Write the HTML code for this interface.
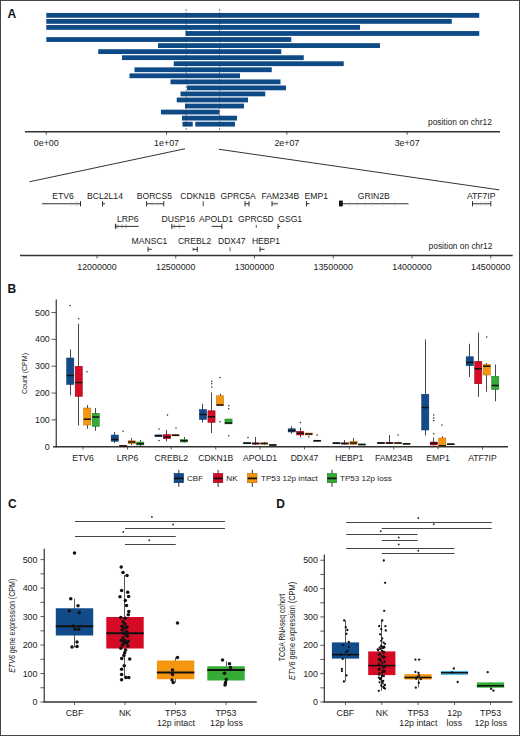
<!DOCTYPE html>
<html><head><meta charset="utf-8"><style>
html,body{margin:0;padding:0;background:#fff;}
body{width:520px;height:736px;overflow:hidden;}
svg{display:block;font-family:"Liberation Sans", sans-serif;}
</style></head><body>
<svg width="520" height="736" viewBox="0 0 520 736">
<rect x="0" y="0" width="520" height="736" fill="#fff"/>
<text x="7.50" y="18.00" font-size="12" text-anchor="start" fill="#111" font-weight="bold" >A</text>
<rect x="46.30" y="12.95" width="432.95" height="4.80" fill="#0e4a86" />
<rect x="46.30" y="19.00" width="405.45" height="4.80" fill="#0e4a86" />
<rect x="46.30" y="25.04" width="313.70" height="4.80" fill="#0e4a86" />
<rect x="185.50" y="31.08" width="293.75" height="4.80" fill="#0e4a86" />
<rect x="46.30" y="37.13" width="244.95" height="4.80" fill="#0e4a86" />
<rect x="158.00" y="43.18" width="222.00" height="4.80" fill="#0e4a86" />
<rect x="98.25" y="49.22" width="183.00" height="4.80" fill="#0e4a86" />
<rect x="122.00" y="55.27" width="181.75" height="4.80" fill="#0e4a86" />
<rect x="173.75" y="61.31" width="170.00" height="4.80" fill="#0e4a86" />
<rect x="134.50" y="67.36" width="137.25" height="4.80" fill="#0e4a86" />
<rect x="129.50" y="73.40" width="110.50" height="4.80" fill="#0e4a86" />
<rect x="170.50" y="79.45" width="110.00" height="4.80" fill="#0e4a86" />
<rect x="187.00" y="85.49" width="99.00" height="4.80" fill="#0e4a86" />
<rect x="180.50" y="91.53" width="84.75" height="4.80" fill="#0e4a86" />
<rect x="176.75" y="97.58" width="71.25" height="4.80" fill="#0e4a86" />
<rect x="185.00" y="103.62" width="59.00" height="4.80" fill="#0e4a86" />
<rect x="161.00" y="109.67" width="58.50" height="4.80" fill="#0e4a86" />
<rect x="182.00" y="115.72" width="55.00" height="4.80" fill="#0e4a86" />
<rect x="182.50" y="121.76" width="10.25" height="4.80" fill="#0e4a86" />
<rect x="195.25" y="121.76" width="39.75" height="4.80" fill="#0e4a86" />
<line x1="186.20" y1="9.00" x2="186.20" y2="131.00" stroke="#333" stroke-width="0.6" stroke-dasharray="2,1.5"/>
<line x1="219.60" y1="9.00" x2="219.60" y2="131.00" stroke="#333" stroke-width="0.6" stroke-dasharray="2,1.5"/>
<line x1="25.00" y1="131.70" x2="500.00" y2="131.70" stroke="#333" stroke-width="1.5" />
<line x1="46.25" y1="131.70" x2="46.25" y2="134.80" stroke="#333" stroke-width="0.8" />
<text x="46.25" y="145.80" font-size="8.9" text-anchor="middle" fill="#222" font-weight="normal" >0e+00</text>
<line x1="166.55" y1="131.70" x2="166.55" y2="134.80" stroke="#333" stroke-width="0.8" />
<text x="166.55" y="145.80" font-size="8.9" text-anchor="middle" fill="#222" font-weight="normal" >1e+07</text>
<line x1="286.85" y1="131.70" x2="286.85" y2="134.80" stroke="#333" stroke-width="0.8" />
<text x="286.85" y="145.80" font-size="8.9" text-anchor="middle" fill="#222" font-weight="normal" >2e+07</text>
<line x1="407.15" y1="131.70" x2="407.15" y2="134.80" stroke="#333" stroke-width="0.8" />
<text x="407.15" y="145.80" font-size="8.9" text-anchor="middle" fill="#222" font-weight="normal" >3e+07</text>
<text x="428.00" y="124.50" font-size="8.4" text-anchor="start" fill="#222" font-weight="normal" >position on chr12</text>
<line x1="29.50" y1="181.75" x2="185.00" y2="148.75" stroke="#333" stroke-width="1" />
<line x1="218.75" y1="149.25" x2="499.40" y2="189.90" stroke="#333" stroke-width="1" />
<text x="63.00" y="198.60" font-size="8.6" text-anchor="middle" fill="#222" font-weight="normal" >ETV6</text>
<line x1="42.00" y1="203.75" x2="80.50" y2="203.75" stroke="#1a1a1a" stroke-width="0.9" />
<line x1="80.50" y1="201.15" x2="80.50" y2="206.35" stroke="#1a1a1a" stroke-width="0.9" />
<line x1="71.20" y1="201.55" x2="71.20" y2="205.95" stroke="#aaa" stroke-width="0.5" />
<line x1="75.60" y1="201.55" x2="75.60" y2="205.95" stroke="#aaa" stroke-width="0.5" />
<line x1="77.50" y1="201.55" x2="77.50" y2="205.95" stroke="#aaa" stroke-width="0.5" />
<text x="105.00" y="198.60" font-size="8.6" text-anchor="middle" fill="#222" font-weight="normal" >BCL2L14</text>
<line x1="102.50" y1="203.75" x2="105.00" y2="203.75" stroke="#1a1a1a" stroke-width="0.9" />
<line x1="102.50" y1="201.15" x2="102.50" y2="206.35" stroke="#1a1a1a" stroke-width="0.9" />
<text x="154.40" y="198.60" font-size="8.6" text-anchor="middle" fill="#222" font-weight="normal" >BORCS5</text>
<line x1="146.50" y1="203.75" x2="163.75" y2="203.75" stroke="#1a1a1a" stroke-width="0.9" />
<line x1="146.50" y1="201.15" x2="146.50" y2="206.35" stroke="#1a1a1a" stroke-width="0.9" />
<line x1="163.75" y1="201.15" x2="163.75" y2="206.35" stroke="#1a1a1a" stroke-width="0.9" />
<line x1="152.00" y1="201.55" x2="152.00" y2="205.95" stroke="#aaa" stroke-width="0.5" />
<line x1="158.00" y1="201.55" x2="158.00" y2="205.95" stroke="#aaa" stroke-width="0.5" />
<text x="197.70" y="198.60" font-size="8.6" text-anchor="middle" fill="#222" font-weight="normal" >CDKN1B</text>
<line x1="203.20" y1="201.30" x2="203.20" y2="206.30" stroke="#1a1a1a" stroke-width="0.8" />
<text x="238.20" y="198.60" font-size="8.6" text-anchor="middle" fill="#222" font-weight="normal" >GPRC5A</text>
<line x1="245.00" y1="203.75" x2="249.00" y2="203.75" stroke="#1a1a1a" stroke-width="0.9" />
<line x1="245.00" y1="201.15" x2="245.00" y2="206.35" stroke="#1a1a1a" stroke-width="0.9" />
<line x1="249.00" y1="201.15" x2="249.00" y2="206.35" stroke="#1a1a1a" stroke-width="0.9" />
<text x="280.40" y="198.60" font-size="8.6" text-anchor="middle" fill="#222" font-weight="normal" >FAM234B</text>
<line x1="272.00" y1="203.75" x2="278.00" y2="203.75" stroke="#1a1a1a" stroke-width="0.9" />
<line x1="272.00" y1="201.15" x2="272.00" y2="206.35" stroke="#1a1a1a" stroke-width="0.9" />
<line x1="274.00" y1="201.55" x2="274.00" y2="205.95" stroke="#aaa" stroke-width="0.5" />
<line x1="276.00" y1="201.55" x2="276.00" y2="205.95" stroke="#aaa" stroke-width="0.5" />
<text x="316.30" y="198.60" font-size="8.6" text-anchor="middle" fill="#222" font-weight="normal" >EMP1</text>
<line x1="306.50" y1="203.75" x2="309.50" y2="203.75" stroke="#1a1a1a" stroke-width="0.9" />
<line x1="306.50" y1="201.15" x2="306.50" y2="206.35" stroke="#1a1a1a" stroke-width="0.9" />
<rect x="339.00" y="200.60" width="3.80" height="5.80" fill="#111" />
<line x1="342.00" y1="203.75" x2="408.50" y2="203.75" stroke="#1a1a1a" stroke-width="0.9" />
<line x1="350.00" y1="201.55" x2="350.00" y2="205.95" stroke="#aaa" stroke-width="0.5" />
<line x1="357.00" y1="201.55" x2="357.00" y2="205.95" stroke="#aaa" stroke-width="0.5" />
<line x1="365.00" y1="201.55" x2="365.00" y2="205.95" stroke="#aaa" stroke-width="0.5" />
<line x1="372.00" y1="201.55" x2="372.00" y2="205.95" stroke="#aaa" stroke-width="0.5" />
<line x1="383.00" y1="201.55" x2="383.00" y2="205.95" stroke="#aaa" stroke-width="0.5" />
<line x1="395.00" y1="201.55" x2="395.00" y2="205.95" stroke="#aaa" stroke-width="0.5" />
<text x="373.80" y="198.60" font-size="8.6" text-anchor="middle" fill="#222" font-weight="normal" >GRIN2B</text>
<text x="481.20" y="198.60" font-size="8.6" text-anchor="middle" fill="#222" font-weight="normal" >ATF7IP</text>
<line x1="472.50" y1="203.75" x2="490.80" y2="203.75" stroke="#1a1a1a" stroke-width="0.9" />
<line x1="472.50" y1="201.15" x2="472.50" y2="206.35" stroke="#1a1a1a" stroke-width="0.9" />
<line x1="490.80" y1="201.15" x2="490.80" y2="206.35" stroke="#1a1a1a" stroke-width="0.9" />
<line x1="477.00" y1="201.55" x2="477.00" y2="205.95" stroke="#aaa" stroke-width="0.5" />
<line x1="481.00" y1="201.55" x2="481.00" y2="205.95" stroke="#aaa" stroke-width="0.5" />
<line x1="485.00" y1="201.55" x2="485.00" y2="205.95" stroke="#aaa" stroke-width="0.5" />
<line x1="488.00" y1="201.55" x2="488.00" y2="205.95" stroke="#aaa" stroke-width="0.5" />
<text x="127.80" y="221.60" font-size="8.6" text-anchor="middle" fill="#222" font-weight="normal" >LRP6</text>
<line x1="115.40" y1="226.40" x2="138.60" y2="226.40" stroke="#1a1a1a" stroke-width="0.9" />
<line x1="115.40" y1="223.80" x2="115.40" y2="229.00" stroke="#1a1a1a" stroke-width="0.9" />
<line x1="116.30" y1="224.20" x2="116.30" y2="228.60" stroke="#555" stroke-width="0.5" />
<line x1="117.90" y1="224.20" x2="117.90" y2="228.60" stroke="#555" stroke-width="0.5" />
<line x1="122.00" y1="224.20" x2="122.00" y2="228.60" stroke="#555" stroke-width="0.5" />
<line x1="126.00" y1="224.20" x2="126.00" y2="228.60" stroke="#555" stroke-width="0.5" />
<text x="178.30" y="221.60" font-size="8.6" text-anchor="middle" fill="#222" font-weight="normal" >DUSP16</text>
<line x1="171.80" y1="226.40" x2="185.30" y2="226.40" stroke="#1a1a1a" stroke-width="0.9" />
<line x1="171.80" y1="223.80" x2="171.80" y2="229.00" stroke="#1a1a1a" stroke-width="0.9" />
<line x1="174.40" y1="224.20" x2="174.40" y2="228.60" stroke="#555" stroke-width="0.5" />
<line x1="179.20" y1="224.20" x2="179.20" y2="228.60" stroke="#555" stroke-width="0.5" />
<text x="216.00" y="221.60" font-size="8.6" text-anchor="middle" fill="#222" font-weight="normal" >APOLD1</text>
<line x1="211.60" y1="226.40" x2="221.90" y2="226.40" stroke="#1a1a1a" stroke-width="0.9" />
<line x1="221.90" y1="223.80" x2="221.90" y2="229.00" stroke="#1a1a1a" stroke-width="0.9" />
<text x="255.90" y="221.60" font-size="8.6" text-anchor="middle" fill="#222" font-weight="normal" >GPRC5D</text>
<line x1="256.30" y1="224.90" x2="256.30" y2="227.90" stroke="#1a1a1a" stroke-width="0.7" />
<text x="290.20" y="221.60" font-size="8.6" text-anchor="middle" fill="#222" font-weight="normal" >GSG1</text>
<line x1="278.00" y1="226.40" x2="280.20" y2="226.40" stroke="#1a1a1a" stroke-width="0.9" />
<line x1="278.00" y1="223.80" x2="278.00" y2="229.00" stroke="#1a1a1a" stroke-width="0.9" />
<text x="149.50" y="244.40" font-size="8.6" text-anchor="middle" fill="#222" font-weight="normal" >MANSC1</text>
<line x1="148.00" y1="249.30" x2="151.80" y2="249.30" stroke="#1a1a1a" stroke-width="0.9" />
<line x1="148.00" y1="246.70" x2="148.00" y2="251.90" stroke="#1a1a1a" stroke-width="0.9" />
<text x="194.60" y="244.40" font-size="8.6" text-anchor="middle" fill="#222" font-weight="normal" >CREBL2</text>
<line x1="193.20" y1="249.30" x2="197.30" y2="249.30" stroke="#1a1a1a" stroke-width="0.9" />
<line x1="197.30" y1="246.70" x2="197.30" y2="251.90" stroke="#1a1a1a" stroke-width="0.9" />
<line x1="193.20" y1="247.80" x2="193.20" y2="250.80" stroke="#1a1a1a" stroke-width="0.8" />
<text x="231.80" y="244.40" font-size="8.6" text-anchor="middle" fill="#222" font-weight="normal" >DDX47</text>
<line x1="230.00" y1="247.30" x2="230.00" y2="251.30" stroke="#1a1a1a" stroke-width="0.7" />
<text x="266.00" y="244.40" font-size="8.6" text-anchor="middle" fill="#222" font-weight="normal" >HEBP1</text>
<line x1="260.00" y1="249.30" x2="264.50" y2="249.30" stroke="#1a1a1a" stroke-width="0.9" />
<line x1="260.00" y1="246.70" x2="260.00" y2="251.90" stroke="#1a1a1a" stroke-width="0.9" />
<text x="428.60" y="248.60" font-size="8.4" text-anchor="start" fill="#222" font-weight="normal" >position on chr12</text>
<line x1="20.00" y1="255.50" x2="512.70" y2="255.50" stroke="#333" stroke-width="1.5" />
<line x1="97.00" y1="255.50" x2="97.00" y2="258.50" stroke="#333" stroke-width="0.8" />
<text x="97.00" y="270.00" font-size="8.9" text-anchor="middle" fill="#222" font-weight="normal" >12000000</text>
<line x1="175.75" y1="255.50" x2="175.75" y2="258.50" stroke="#333" stroke-width="0.8" />
<text x="175.75" y="270.00" font-size="8.9" text-anchor="middle" fill="#222" font-weight="normal" >12500000</text>
<line x1="254.50" y1="255.50" x2="254.50" y2="258.50" stroke="#333" stroke-width="0.8" />
<text x="254.50" y="270.00" font-size="8.9" text-anchor="middle" fill="#222" font-weight="normal" >13000000</text>
<line x1="333.25" y1="255.50" x2="333.25" y2="258.50" stroke="#333" stroke-width="0.8" />
<text x="333.25" y="270.00" font-size="8.9" text-anchor="middle" fill="#222" font-weight="normal" >13500000</text>
<line x1="412.00" y1="255.50" x2="412.00" y2="258.50" stroke="#333" stroke-width="0.8" />
<text x="412.00" y="270.00" font-size="8.9" text-anchor="middle" fill="#222" font-weight="normal" >14000000</text>
<line x1="490.75" y1="255.50" x2="490.75" y2="258.50" stroke="#333" stroke-width="0.8" />
<text x="490.75" y="270.00" font-size="8.9" text-anchor="middle" fill="#222" font-weight="normal" >14500000</text>
<text x="7.50" y="292.50" font-size="12" text-anchor="start" fill="#111" font-weight="bold" >B</text>
<line x1="56.25" y1="299.50" x2="56.25" y2="447.50" stroke="#333" stroke-width="1.2" />
<line x1="53.10" y1="446.75" x2="508.00" y2="446.75" stroke="#333" stroke-width="1.5" />
<text x="49.80" y="449.85" font-size="8.9" text-anchor="end" fill="#222" font-weight="normal" >0</text>
<line x1="51.50" y1="419.90" x2="56.25" y2="419.90" stroke="#333" stroke-width="0.8" />
<text x="49.80" y="423.00" font-size="8.9" text-anchor="end" fill="#222" font-weight="normal" >100</text>
<line x1="51.50" y1="393.05" x2="56.25" y2="393.05" stroke="#333" stroke-width="0.8" />
<text x="49.80" y="396.15" font-size="8.9" text-anchor="end" fill="#222" font-weight="normal" >200</text>
<line x1="51.50" y1="366.20" x2="56.25" y2="366.20" stroke="#333" stroke-width="0.8" />
<text x="49.80" y="369.30" font-size="8.9" text-anchor="end" fill="#222" font-weight="normal" >300</text>
<line x1="51.50" y1="339.35" x2="56.25" y2="339.35" stroke="#333" stroke-width="0.8" />
<text x="49.80" y="342.45" font-size="8.9" text-anchor="end" fill="#222" font-weight="normal" >400</text>
<line x1="51.50" y1="312.50" x2="56.25" y2="312.50" stroke="#333" stroke-width="0.8" />
<text x="49.80" y="315.60" font-size="8.9" text-anchor="end" fill="#222" font-weight="normal" >500</text>
<text transform="translate(27,373.5) rotate(-90) scale(0.88,1)" font-size="8" text-anchor="middle" fill="#222">Count (CPM)</text>
<line x1="83.00" y1="446.75" x2="83.00" y2="449.50" stroke="#333" stroke-width="0.8" />
<text x="83.00" y="461.30" font-size="8.6" text-anchor="middle" fill="#222" font-weight="normal" >ETV6</text>
<line x1="127.50" y1="446.75" x2="127.50" y2="449.50" stroke="#333" stroke-width="0.8" />
<text x="127.50" y="461.30" font-size="8.6" text-anchor="middle" fill="#222" font-weight="normal" >LRP6</text>
<line x1="171.25" y1="446.75" x2="171.25" y2="449.50" stroke="#333" stroke-width="0.8" />
<text x="171.25" y="461.30" font-size="8.6" text-anchor="middle" fill="#222" font-weight="normal" >CREBL2</text>
<line x1="215.75" y1="446.75" x2="215.75" y2="449.50" stroke="#333" stroke-width="0.8" />
<text x="215.75" y="461.30" font-size="8.6" text-anchor="middle" fill="#222" font-weight="normal" >CDKN1B</text>
<line x1="260.00" y1="446.75" x2="260.00" y2="449.50" stroke="#333" stroke-width="0.8" />
<text x="260.00" y="461.30" font-size="8.6" text-anchor="middle" fill="#222" font-weight="normal" >APOLD1</text>
<line x1="304.50" y1="446.75" x2="304.50" y2="449.50" stroke="#333" stroke-width="0.8" />
<text x="304.50" y="461.30" font-size="8.6" text-anchor="middle" fill="#222" font-weight="normal" >DDX47</text>
<line x1="349.25" y1="446.75" x2="349.25" y2="449.50" stroke="#333" stroke-width="0.8" />
<text x="349.25" y="461.30" font-size="8.6" text-anchor="middle" fill="#222" font-weight="normal" >HEBP1</text>
<line x1="393.75" y1="446.75" x2="393.75" y2="449.50" stroke="#333" stroke-width="0.8" />
<text x="393.75" y="461.30" font-size="8.6" text-anchor="middle" fill="#222" font-weight="normal" >FAM234B</text>
<line x1="438.00" y1="446.75" x2="438.00" y2="449.50" stroke="#333" stroke-width="0.8" />
<text x="438.00" y="461.30" font-size="8.6" text-anchor="middle" fill="#222" font-weight="normal" >EMP1</text>
<line x1="482.50" y1="446.75" x2="482.50" y2="449.50" stroke="#333" stroke-width="0.8" />
<text x="482.50" y="461.30" font-size="8.6" text-anchor="middle" fill="#222" font-weight="normal" >ATF7IP</text>
<line x1="70.50" y1="349.50" x2="70.50" y2="395.50" stroke="#333" stroke-width="0.9" />
<rect x="66.65" y="358.00" width="7.20" height="26.50" fill="#124b8a" stroke="#0a3566" stroke-width="0.5"/>
<line x1="66.65" y1="375.50" x2="73.85" y2="375.50" stroke="#111" stroke-width="1.5" />
<circle cx="70.00" cy="305.50" r="0.75" fill="#222"/>
<line x1="78.50" y1="323.75" x2="78.50" y2="425.50" stroke="#333" stroke-width="0.9" />
<rect x="75.15" y="366.25" width="7.20" height="30.25" fill="#d50a25" stroke="#8e0a20" stroke-width="0.5"/>
<line x1="75.15" y1="382.50" x2="82.35" y2="382.50" stroke="#111" stroke-width="1.5" />
<circle cx="78.75" cy="318.75" r="0.75" fill="#222"/>
<line x1="87.50" y1="405.00" x2="87.50" y2="428.75" stroke="#333" stroke-width="0.9" />
<rect x="83.65" y="408.00" width="7.20" height="17.00" fill="#f5960f" stroke="#b86a10" stroke-width="0.5"/>
<line x1="83.65" y1="419.25" x2="90.85" y2="419.25" stroke="#111" stroke-width="1.5" />
<circle cx="87.00" cy="371.75" r="0.75" fill="#222"/>
<line x1="95.50" y1="408.00" x2="95.50" y2="430.75" stroke="#333" stroke-width="0.9" />
<rect x="92.15" y="413.25" width="7.20" height="13.25" fill="#36ab36" stroke="#25762a" stroke-width="0.5"/>
<line x1="92.15" y1="417.00" x2="99.35" y2="417.00" stroke="#111" stroke-width="1.5" />
<line x1="114.50" y1="432.00" x2="114.50" y2="443.00" stroke="#333" stroke-width="0.9" />
<rect x="111.15" y="435.00" width="7.20" height="6.25" fill="#124b8a" stroke="#0a3566" stroke-width="0.5"/>
<line x1="111.15" y1="439.50" x2="118.35" y2="439.50" stroke="#111" stroke-width="1.5" />
<line x1="123.50" y1="445.00" x2="123.50" y2="447.00" stroke="#333" stroke-width="0.9" />
<rect x="119.65" y="445.50" width="7.20" height="1.00" fill="#d50a25" stroke="#8e0a20" stroke-width="0.5"/>
<line x1="119.65" y1="446.00" x2="126.85" y2="446.00" stroke="#111" stroke-width="1.5" />
<circle cx="123.00" cy="431.25" r="0.75" fill="#222"/>
<line x1="131.50" y1="438.00" x2="131.50" y2="445.00" stroke="#333" stroke-width="0.9" />
<rect x="128.15" y="440.75" width="7.20" height="3.00" fill="#f5960f" stroke="#b86a10" stroke-width="0.5"/>
<line x1="128.15" y1="442.00" x2="135.35" y2="442.00" stroke="#111" stroke-width="1.5" />
<line x1="140.50" y1="440.00" x2="140.50" y2="446.00" stroke="#333" stroke-width="0.9" />
<rect x="136.65" y="442.00" width="7.20" height="3.00" fill="#36ab36" stroke="#25762a" stroke-width="0.5"/>
<line x1="136.65" y1="443.75" x2="143.85" y2="443.75" stroke="#111" stroke-width="1.5" />
<line x1="158.50" y1="434.90" x2="158.50" y2="436.60" stroke="#333" stroke-width="0.9" />
<rect x="154.90" y="434.90" width="7.20" height="1.70" fill="#124b8a" stroke="#0a3566" stroke-width="0.5"/>
<line x1="154.90" y1="435.75" x2="162.10" y2="435.75" stroke="#111" stroke-width="1.5" />
<circle cx="159.00" cy="429.00" r="0.75" fill="#222"/>
<circle cx="159.00" cy="440.50" r="0.75" fill="#222"/>
<line x1="166.50" y1="430.00" x2="166.50" y2="441.25" stroke="#333" stroke-width="0.9" />
<rect x="163.40" y="434.50" width="7.20" height="4.25" fill="#d50a25" stroke="#8e0a20" stroke-width="0.5"/>
<line x1="163.40" y1="437.00" x2="170.60" y2="437.00" stroke="#111" stroke-width="1.5" />
<circle cx="167.50" cy="415.00" r="0.75" fill="#222"/>
<line x1="175.50" y1="434.60" x2="175.50" y2="435.90" stroke="#333" stroke-width="0.9" />
<rect x="171.90" y="434.60" width="7.20" height="1.30" fill="#f5960f" stroke="#b86a10" stroke-width="0.5"/>
<line x1="171.90" y1="435.25" x2="179.10" y2="435.25" stroke="#111" stroke-width="1.5" />
<circle cx="176.00" cy="428.00" r="0.75" fill="#222"/>
<line x1="184.50" y1="437.00" x2="184.50" y2="442.50" stroke="#333" stroke-width="0.9" />
<rect x="180.40" y="439.50" width="7.20" height="2.50" fill="#36ab36" stroke="#25762a" stroke-width="0.5"/>
<line x1="180.40" y1="440.75" x2="187.60" y2="440.75" stroke="#111" stroke-width="1.5" />
<line x1="202.50" y1="403.75" x2="202.50" y2="422.50" stroke="#333" stroke-width="0.9" />
<rect x="199.40" y="409.50" width="7.20" height="10.00" fill="#124b8a" stroke="#0a3566" stroke-width="0.5"/>
<line x1="199.40" y1="414.50" x2="206.60" y2="414.50" stroke="#111" stroke-width="1.5" />
<line x1="211.50" y1="392.50" x2="211.50" y2="433.00" stroke="#333" stroke-width="0.9" />
<rect x="207.90" y="410.75" width="7.20" height="11.75" fill="#d50a25" stroke="#8e0a20" stroke-width="0.5"/>
<line x1="207.90" y1="416.75" x2="215.10" y2="416.75" stroke="#111" stroke-width="1.5" />
<circle cx="211.75" cy="381.25" r="0.75" fill="#222"/>
<circle cx="211.75" cy="383.75" r="0.75" fill="#222"/>
<circle cx="211.75" cy="387.00" r="0.75" fill="#222"/>
<line x1="220.50" y1="393.75" x2="220.50" y2="405.60" stroke="#333" stroke-width="0.9" />
<rect x="216.40" y="395.75" width="7.20" height="9.85" fill="#f5960f" stroke="#b86a10" stroke-width="0.5"/>
<line x1="216.40" y1="405.00" x2="223.60" y2="405.00" stroke="#111" stroke-width="1.5" />
<circle cx="220.00" cy="377.50" r="0.75" fill="#222"/>
<circle cx="220.00" cy="421.75" r="0.75" fill="#222"/>
<line x1="228.50" y1="419.00" x2="228.50" y2="424.00" stroke="#333" stroke-width="0.9" />
<rect x="224.90" y="419.00" width="7.20" height="4.90" fill="#36ab36" stroke="#25762a" stroke-width="0.5"/>
<line x1="224.90" y1="423.00" x2="232.10" y2="423.00" stroke="#111" stroke-width="1.5" />
<circle cx="228.75" cy="405.75" r="0.75" fill="#222"/>
<circle cx="228.75" cy="408.75" r="0.75" fill="#222"/>
<circle cx="228.75" cy="435.75" r="0.75" fill="#222"/>
<line x1="247.50" y1="442.70" x2="247.50" y2="443.80" stroke="#333" stroke-width="0.9" />
<rect x="243.65" y="442.70" width="7.20" height="1.10" fill="#124b8a" stroke="#0a3566" stroke-width="0.5"/>
<line x1="243.65" y1="443.25" x2="250.85" y2="443.25" stroke="#111" stroke-width="1.5" />
<circle cx="248.00" cy="437.50" r="0.75" fill="#222"/>
<line x1="255.50" y1="437.00" x2="255.50" y2="445.00" stroke="#333" stroke-width="0.9" />
<rect x="252.15" y="442.90" width="7.20" height="1.20" fill="#d50a25" stroke="#8e0a20" stroke-width="0.5"/>
<line x1="252.15" y1="443.50" x2="259.35" y2="443.50" stroke="#111" stroke-width="1.5" />
<line x1="264.50" y1="442.00" x2="264.50" y2="444.50" stroke="#333" stroke-width="0.9" />
<rect x="260.65" y="442.90" width="7.20" height="1.20" fill="#f5960f" stroke="#b86a10" stroke-width="0.5"/>
<line x1="260.65" y1="443.50" x2="267.85" y2="443.50" stroke="#111" stroke-width="1.5" />
<line x1="272.50" y1="444.50" x2="272.50" y2="445.50" stroke="#333" stroke-width="0.9" />
<rect x="269.15" y="444.50" width="7.20" height="1.00" fill="#36ab36" stroke="#25762a" stroke-width="0.5"/>
<line x1="269.15" y1="445.00" x2="276.35" y2="445.00" stroke="#111" stroke-width="1.5" />
<line x1="291.50" y1="426.25" x2="291.50" y2="433.75" stroke="#333" stroke-width="0.9" />
<rect x="288.15" y="428.75" width="7.20" height="3.25" fill="#124b8a" stroke="#0a3566" stroke-width="0.5"/>
<line x1="288.15" y1="430.50" x2="295.35" y2="430.50" stroke="#111" stroke-width="1.5" />
<line x1="300.50" y1="427.50" x2="300.50" y2="437.50" stroke="#333" stroke-width="0.9" />
<rect x="296.65" y="431.25" width="7.20" height="3.75" fill="#d50a25" stroke="#8e0a20" stroke-width="0.5"/>
<line x1="296.65" y1="433.25" x2="303.85" y2="433.25" stroke="#111" stroke-width="1.5" />
<circle cx="300.50" cy="422.50" r="0.75" fill="#222"/>
<line x1="308.50" y1="433.00" x2="308.50" y2="435.00" stroke="#333" stroke-width="0.9" />
<rect x="305.15" y="433.00" width="7.20" height="2.00" fill="#f5960f" stroke="#b86a10" stroke-width="0.5"/>
<line x1="305.15" y1="434.00" x2="312.35" y2="434.00" stroke="#111" stroke-width="1.5" />
<circle cx="308.75" cy="437.00" r="0.75" fill="#222"/>
<line x1="317.50" y1="440.20" x2="317.50" y2="441.30" stroke="#333" stroke-width="0.9" />
<rect x="313.65" y="440.20" width="7.20" height="1.10" fill="#36ab36" stroke="#25762a" stroke-width="0.5"/>
<line x1="313.65" y1="440.75" x2="320.85" y2="440.75" stroke="#111" stroke-width="1.5" />
<circle cx="317.00" cy="435.00" r="0.75" fill="#222"/>
<line x1="336.50" y1="442.70" x2="336.50" y2="443.80" stroke="#333" stroke-width="0.9" />
<rect x="332.90" y="442.70" width="7.20" height="1.10" fill="#124b8a" stroke="#0a3566" stroke-width="0.5"/>
<line x1="332.90" y1="443.25" x2="340.10" y2="443.25" stroke="#111" stroke-width="1.5" />
<line x1="344.50" y1="440.00" x2="344.50" y2="444.50" stroke="#333" stroke-width="0.9" />
<rect x="341.40" y="442.90" width="7.20" height="1.20" fill="#d50a25" stroke="#8e0a20" stroke-width="0.5"/>
<line x1="341.40" y1="443.50" x2="348.60" y2="443.50" stroke="#111" stroke-width="1.5" />
<line x1="353.50" y1="438.00" x2="353.50" y2="445.00" stroke="#333" stroke-width="0.9" />
<rect x="349.90" y="441.25" width="7.20" height="3.25" fill="#f5960f" stroke="#b86a10" stroke-width="0.5"/>
<line x1="349.90" y1="443.00" x2="357.10" y2="443.00" stroke="#111" stroke-width="1.5" />
<line x1="362.50" y1="444.00" x2="362.50" y2="445.00" stroke="#333" stroke-width="0.9" />
<rect x="358.40" y="444.00" width="7.20" height="1.00" fill="#36ab36" stroke="#25762a" stroke-width="0.5"/>
<line x1="358.40" y1="444.50" x2="365.60" y2="444.50" stroke="#111" stroke-width="1.5" />
<line x1="380.50" y1="442.50" x2="380.50" y2="443.50" stroke="#333" stroke-width="0.9" />
<rect x="377.40" y="442.50" width="7.20" height="1.00" fill="#124b8a" stroke="#0a3566" stroke-width="0.5"/>
<line x1="377.40" y1="443.00" x2="384.60" y2="443.00" stroke="#111" stroke-width="1.5" />
<line x1="389.50" y1="435.00" x2="389.50" y2="444.00" stroke="#333" stroke-width="0.9" />
<rect x="385.90" y="442.50" width="7.20" height="1.00" fill="#d50a25" stroke="#8e0a20" stroke-width="0.5"/>
<line x1="385.90" y1="443.00" x2="393.10" y2="443.00" stroke="#111" stroke-width="1.5" />
<line x1="398.50" y1="442.50" x2="398.50" y2="443.50" stroke="#333" stroke-width="0.9" />
<rect x="394.40" y="442.50" width="7.20" height="1.00" fill="#f5960f" stroke="#b86a10" stroke-width="0.5"/>
<line x1="394.40" y1="443.00" x2="401.60" y2="443.00" stroke="#111" stroke-width="1.5" />
<circle cx="398.00" cy="435.00" r="0.75" fill="#222"/>
<line x1="406.50" y1="443.25" x2="406.50" y2="444.25" stroke="#333" stroke-width="0.9" />
<rect x="402.90" y="443.25" width="7.20" height="1.00" fill="#36ab36" stroke="#25762a" stroke-width="0.5"/>
<line x1="402.90" y1="443.75" x2="410.10" y2="443.75" stroke="#111" stroke-width="1.5" />
<line x1="425.50" y1="339.50" x2="425.50" y2="435.50" stroke="#333" stroke-width="0.9" />
<rect x="421.65" y="394.25" width="7.20" height="35.75" fill="#124b8a" stroke="#0a3566" stroke-width="0.5"/>
<line x1="421.65" y1="407.50" x2="428.85" y2="407.50" stroke="#111" stroke-width="1.5" />
<line x1="433.50" y1="437.50" x2="433.50" y2="445.50" stroke="#333" stroke-width="0.9" />
<rect x="430.15" y="442.00" width="7.20" height="3.00" fill="#d50a25" stroke="#8e0a20" stroke-width="0.5"/>
<line x1="430.15" y1="443.25" x2="437.35" y2="443.25" stroke="#111" stroke-width="1.5" />
<circle cx="433.75" cy="415.00" r="0.75" fill="#222"/>
<circle cx="433.75" cy="418.00" r="0.75" fill="#222"/>
<circle cx="433.75" cy="420.50" r="0.75" fill="#222"/>
<circle cx="433.75" cy="433.75" r="0.75" fill="#222"/>
<line x1="442.50" y1="436.25" x2="442.50" y2="446.50" stroke="#333" stroke-width="0.9" />
<rect x="438.65" y="438.00" width="7.20" height="8.25" fill="#f5960f" stroke="#b86a10" stroke-width="0.5"/>
<line x1="438.65" y1="445.75" x2="445.85" y2="445.75" stroke="#111" stroke-width="1.5" />
<circle cx="442.00" cy="425.00" r="0.75" fill="#222"/>
<line x1="450.50" y1="443.50" x2="450.50" y2="445.00" stroke="#333" stroke-width="0.9" />
<rect x="447.15" y="443.75" width="7.20" height="1.00" fill="#36ab36" stroke="#25762a" stroke-width="0.5"/>
<line x1="447.15" y1="444.25" x2="454.35" y2="444.25" stroke="#111" stroke-width="1.5" />
<line x1="469.50" y1="343.75" x2="469.50" y2="377.00" stroke="#333" stroke-width="0.9" />
<rect x="466.15" y="356.75" width="7.20" height="9.00" fill="#124b8a" stroke="#0a3566" stroke-width="0.5"/>
<line x1="466.15" y1="362.50" x2="473.35" y2="362.50" stroke="#111" stroke-width="1.5" />
<line x1="478.50" y1="332.50" x2="478.50" y2="396.75" stroke="#333" stroke-width="0.9" />
<rect x="474.65" y="361.25" width="7.20" height="22.50" fill="#d50a25" stroke="#8e0a20" stroke-width="0.5"/>
<line x1="474.65" y1="368.75" x2="481.85" y2="368.75" stroke="#111" stroke-width="1.5" />
<line x1="486.50" y1="363.00" x2="486.50" y2="391.75" stroke="#333" stroke-width="0.9" />
<rect x="483.15" y="364.25" width="7.20" height="10.75" fill="#f5960f" stroke="#b86a10" stroke-width="0.5"/>
<line x1="483.15" y1="366.25" x2="490.35" y2="366.25" stroke="#111" stroke-width="1.5" />
<circle cx="486.75" cy="337.00" r="0.75" fill="#222"/>
<line x1="495.50" y1="364.50" x2="495.50" y2="401.25" stroke="#333" stroke-width="0.9" />
<rect x="491.65" y="376.30" width="7.20" height="13.20" fill="#36ab36" stroke="#25762a" stroke-width="0.5"/>
<line x1="491.65" y1="385.50" x2="498.85" y2="385.50" stroke="#111" stroke-width="1.5" />
<line x1="178.80" y1="469.80" x2="178.80" y2="486.90" stroke="#333" stroke-width="1" />
<rect x="174.10" y="473.50" width="9.40" height="9.20" fill="#124b8a" stroke="#0a3566" stroke-width="0.6"/>
<line x1="174.10" y1="478.40" x2="183.50" y2="478.40" stroke="#111" stroke-width="1.8" />
<text x="187.00" y="481.30" font-size="8.1" text-anchor="start" fill="#222" font-weight="normal" >CBF</text>
<line x1="218.10" y1="469.80" x2="218.10" y2="486.90" stroke="#333" stroke-width="1" />
<rect x="213.40" y="473.50" width="9.40" height="9.20" fill="#d50a25" stroke="#8e0a20" stroke-width="0.6"/>
<line x1="213.40" y1="478.40" x2="222.80" y2="478.40" stroke="#111" stroke-width="1.8" />
<text x="226.30" y="481.30" font-size="8.1" text-anchor="start" fill="#222" font-weight="normal" >NK</text>
<line x1="252.30" y1="469.80" x2="252.30" y2="486.90" stroke="#333" stroke-width="1" />
<rect x="247.60" y="473.50" width="9.40" height="9.20" fill="#f5960f" stroke="#b86a10" stroke-width="0.6"/>
<line x1="247.60" y1="478.40" x2="257.00" y2="478.40" stroke="#111" stroke-width="1.8" />
<text x="261.00" y="481.30" font-size="8.1" text-anchor="start" fill="#222" font-weight="normal" >TP53 12p intact</text>
<line x1="332.00" y1="469.80" x2="332.00" y2="486.90" stroke="#333" stroke-width="1" />
<rect x="327.30" y="473.50" width="9.40" height="9.20" fill="#36ab36" stroke="#25762a" stroke-width="0.6"/>
<line x1="327.30" y1="478.40" x2="336.70" y2="478.40" stroke="#111" stroke-width="1.8" />
<text x="340.00" y="481.30" font-size="8.1" text-anchor="start" fill="#222" font-weight="normal" >TP53 12p loss</text>
<text x="8.00" y="508.00" font-size="12" text-anchor="start" fill="#111" font-weight="bold" >C</text>
<line x1="44.25" y1="548.75" x2="44.25" y2="702.60" stroke="#333" stroke-width="1.2" />
<line x1="43.60" y1="702.00" x2="256.75" y2="702.00" stroke="#333" stroke-width="1.5" />
<line x1="40.50" y1="702.00" x2="44.25" y2="702.00" stroke="#333" stroke-width="0.8" />
<text x="37.50" y="705.10" font-size="8.9" text-anchor="end" fill="#222" font-weight="normal" >0</text>
<line x1="40.50" y1="687.76" x2="44.25" y2="687.76" stroke="#333" stroke-width="0.8" />
<line x1="40.50" y1="673.52" x2="44.25" y2="673.52" stroke="#333" stroke-width="0.8" />
<text x="37.50" y="676.62" font-size="8.9" text-anchor="end" fill="#222" font-weight="normal" >100</text>
<line x1="40.50" y1="659.28" x2="44.25" y2="659.28" stroke="#333" stroke-width="0.8" />
<line x1="40.50" y1="645.04" x2="44.25" y2="645.04" stroke="#333" stroke-width="0.8" />
<text x="37.50" y="648.14" font-size="8.9" text-anchor="end" fill="#222" font-weight="normal" >200</text>
<line x1="40.50" y1="630.80" x2="44.25" y2="630.80" stroke="#333" stroke-width="0.8" />
<line x1="40.50" y1="616.56" x2="44.25" y2="616.56" stroke="#333" stroke-width="0.8" />
<text x="37.50" y="619.66" font-size="8.9" text-anchor="end" fill="#222" font-weight="normal" >300</text>
<line x1="40.50" y1="602.32" x2="44.25" y2="602.32" stroke="#333" stroke-width="0.8" />
<line x1="40.50" y1="588.08" x2="44.25" y2="588.08" stroke="#333" stroke-width="0.8" />
<text x="37.50" y="591.18" font-size="8.9" text-anchor="end" fill="#222" font-weight="normal" >400</text>
<line x1="40.50" y1="573.84" x2="44.25" y2="573.84" stroke="#333" stroke-width="0.8" />
<line x1="40.50" y1="559.60" x2="44.25" y2="559.60" stroke="#333" stroke-width="0.8" />
<text x="37.50" y="562.70" font-size="8.9" text-anchor="end" fill="#222" font-weight="normal" >500</text>
<text transform="translate(15.4,625.8) rotate(-90) scale(0.865,1)" font-size="8.2" text-anchor="middle" fill="#222"><tspan font-style="italic">ETV6</tspan> gene expression (CPM)</text>
<line x1="74.50" y1="702.00" x2="74.50" y2="705.00" stroke="#333" stroke-width="0.8" />
<line x1="125.00" y1="702.00" x2="125.00" y2="705.00" stroke="#333" stroke-width="0.8" />
<line x1="175.60" y1="702.00" x2="175.60" y2="705.00" stroke="#333" stroke-width="0.8" />
<line x1="226.00" y1="702.00" x2="226.00" y2="705.00" stroke="#333" stroke-width="0.8" />
<text x="74.50" y="716.30" font-size="8.8" text-anchor="middle" fill="#222" font-weight="normal" >CBF</text>
<text x="125.00" y="716.30" font-size="8.8" text-anchor="middle" fill="#222" font-weight="normal" >NK</text>
<text x="175.60" y="716.30" font-size="8.8" text-anchor="middle" fill="#222" font-weight="normal" >TP53</text>
<text x="176.00" y="726.30" font-size="8.8" text-anchor="middle" fill="#222" font-weight="normal" >12p intact</text>
<text x="226.00" y="716.30" font-size="8.8" text-anchor="middle" fill="#222" font-weight="normal" >TP53</text>
<text x="226.40" y="726.30" font-size="8.8" text-anchor="middle" fill="#222" font-weight="normal" >12p loss</text>
<line x1="74.50" y1="598.75" x2="74.50" y2="647.50" stroke="#444" stroke-width="0.9" />
<rect x="55.80" y="608.25" width="37.40" height="27.25" fill="#124b8a" />
<line x1="55.80" y1="626.25" x2="93.20" y2="626.25" stroke="#111" stroke-width="1.8" />
<line x1="124.50" y1="575.00" x2="124.50" y2="678.40" stroke="#444" stroke-width="0.9" />
<rect x="106.30" y="617.00" width="37.40" height="31.50" fill="#d50a25" />
<line x1="106.30" y1="633.25" x2="143.70" y2="633.25" stroke="#111" stroke-width="1.8" />
<line x1="175.50" y1="657.50" x2="175.50" y2="682.50" stroke="#444" stroke-width="0.9" />
<rect x="156.90" y="660.50" width="37.40" height="18.75" fill="#f5960f" />
<line x1="156.90" y1="672.50" x2="194.30" y2="672.50" stroke="#111" stroke-width="1.8" />
<line x1="226.50" y1="661.25" x2="226.50" y2="685.00" stroke="#444" stroke-width="0.9" />
<rect x="207.30" y="666.25" width="37.40" height="14.25" fill="#36ab36" />
<line x1="207.30" y1="670.00" x2="244.70" y2="670.00" stroke="#111" stroke-width="1.8" />
<circle cx="74.50" cy="553.00" r="1.75" fill="#111"/>
<circle cx="70.75" cy="598.75" r="1.75" fill="#111"/>
<circle cx="78.00" cy="605.75" r="1.75" fill="#111"/>
<circle cx="69.25" cy="610.75" r="1.75" fill="#111"/>
<circle cx="79.25" cy="612.50" r="1.75" fill="#111"/>
<circle cx="75.00" cy="629.25" r="1.75" fill="#111"/>
<circle cx="78.75" cy="629.25" r="1.75" fill="#111"/>
<circle cx="77.00" cy="642.00" r="1.75" fill="#111"/>
<circle cx="72.00" cy="647.00" r="1.75" fill="#111"/>
<circle cx="77.00" cy="646.50" r="1.75" fill="#111"/>
<circle cx="73.00" cy="626.00" r="1.75" fill="#111"/>
<circle cx="121.20" cy="567.10" r="1.75" fill="#111"/>
<circle cx="123.00" cy="572.40" r="1.75" fill="#111"/>
<circle cx="127.00" cy="575.50" r="1.75" fill="#111"/>
<circle cx="121.60" cy="590.40" r="1.75" fill="#111"/>
<circle cx="127.70" cy="592.30" r="1.75" fill="#111"/>
<circle cx="120.00" cy="596.70" r="1.75" fill="#111"/>
<circle cx="128.60" cy="596.60" r="1.75" fill="#111"/>
<circle cx="125.30" cy="600.60" r="1.75" fill="#111"/>
<circle cx="126.50" cy="605.40" r="1.75" fill="#111"/>
<circle cx="128.80" cy="611.60" r="1.75" fill="#111"/>
<circle cx="128.30" cy="614.80" r="1.75" fill="#111"/>
<circle cx="120.80" cy="617.40" r="1.75" fill="#111"/>
<circle cx="125.30" cy="618.30" r="1.75" fill="#111"/>
<circle cx="123.00" cy="621.80" r="1.75" fill="#111"/>
<circle cx="122.10" cy="626.30" r="1.75" fill="#111"/>
<circle cx="124.70" cy="628.00" r="1.75" fill="#111"/>
<circle cx="122.10" cy="629.80" r="1.75" fill="#111"/>
<circle cx="126.50" cy="631.60" r="1.75" fill="#111"/>
<circle cx="127.40" cy="636.00" r="1.75" fill="#111"/>
<circle cx="123.00" cy="637.70" r="1.75" fill="#111"/>
<circle cx="121.20" cy="640.40" r="1.75" fill="#111"/>
<circle cx="124.70" cy="640.40" r="1.75" fill="#111"/>
<circle cx="128.30" cy="641.30" r="1.75" fill="#111"/>
<circle cx="123.90" cy="642.70" r="1.75" fill="#111"/>
<circle cx="126.50" cy="643.00" r="1.75" fill="#111"/>
<circle cx="120.80" cy="648.30" r="1.75" fill="#111"/>
<circle cx="125.60" cy="650.10" r="1.75" fill="#111"/>
<circle cx="124.70" cy="652.80" r="1.75" fill="#111"/>
<circle cx="123.90" cy="655.40" r="1.75" fill="#111"/>
<circle cx="121.70" cy="658.60" r="1.75" fill="#111"/>
<circle cx="129.70" cy="658.90" r="1.75" fill="#111"/>
<circle cx="124.20" cy="665.70" r="1.75" fill="#111"/>
<circle cx="121.60" cy="669.20" r="1.75" fill="#111"/>
<circle cx="121.60" cy="674.50" r="1.75" fill="#111"/>
<circle cx="126.10" cy="677.50" r="1.75" fill="#111"/>
<circle cx="128.80" cy="677.50" r="1.75" fill="#111"/>
<circle cx="121.60" cy="679.80" r="1.75" fill="#111"/>
<circle cx="125.00" cy="624.00" r="1.75" fill="#111"/>
<circle cx="127.00" cy="627.00" r="1.75" fill="#111"/>
<circle cx="123.50" cy="633.00" r="1.75" fill="#111"/>
<circle cx="126.00" cy="635.00" r="1.75" fill="#111"/>
<circle cx="122.50" cy="645.00" r="1.75" fill="#111"/>
<circle cx="128.00" cy="646.00" r="1.75" fill="#111"/>
<circle cx="177.50" cy="623.00" r="1.75" fill="#111"/>
<circle cx="177.50" cy="657.50" r="1.75" fill="#111"/>
<circle cx="172.50" cy="670.00" r="1.75" fill="#111"/>
<circle cx="172.50" cy="674.50" r="1.75" fill="#111"/>
<circle cx="172.00" cy="680.00" r="1.75" fill="#111"/>
<circle cx="173.25" cy="682.50" r="1.75" fill="#111"/>
<circle cx="222.50" cy="660.00" r="1.75" fill="#111"/>
<circle cx="229.50" cy="663.75" r="1.75" fill="#111"/>
<circle cx="230.50" cy="667.50" r="1.75" fill="#111"/>
<circle cx="224.50" cy="673.25" r="1.75" fill="#111"/>
<circle cx="226.25" cy="679.50" r="1.75" fill="#111"/>
<circle cx="225.50" cy="682.50" r="1.75" fill="#111"/>
<circle cx="225.00" cy="685.00" r="1.75" fill="#111"/>
<line x1="75.00" y1="521.50" x2="225.00" y2="521.50" stroke="#444" stroke-width="1" />
<circle cx="151.90" cy="516.90" r="0.95" fill="#333"/>
<line x1="125.00" y1="528.50" x2="225.00" y2="528.50" stroke="#444" stroke-width="1" />
<circle cx="173.10" cy="524.50" r="0.95" fill="#333"/>
<line x1="75.00" y1="536.50" x2="175.75" y2="536.50" stroke="#444" stroke-width="1" />
<circle cx="123.25" cy="532.00" r="0.95" fill="#333"/>
<line x1="125.00" y1="544.50" x2="175.75" y2="544.50" stroke="#444" stroke-width="1" />
<circle cx="149.25" cy="540.30" r="0.95" fill="#333"/>
<text x="276.25" y="508.00" font-size="12" text-anchor="start" fill="#111" font-weight="bold" >D</text>
<line x1="324.30" y1="554.50" x2="324.30" y2="702.60" stroke="#333" stroke-width="1.2" />
<line x1="323.60" y1="702.00" x2="512.40" y2="702.00" stroke="#333" stroke-width="1.5" />
<line x1="320.30" y1="702.00" x2="324.30" y2="702.00" stroke="#333" stroke-width="0.8" />
<text x="318.00" y="705.10" font-size="8.9" text-anchor="end" fill="#222" font-weight="normal" >0</text>
<line x1="320.30" y1="687.83" x2="324.30" y2="687.83" stroke="#333" stroke-width="0.8" />
<line x1="320.30" y1="673.65" x2="324.30" y2="673.65" stroke="#333" stroke-width="0.8" />
<text x="318.00" y="676.75" font-size="8.9" text-anchor="end" fill="#222" font-weight="normal" >100</text>
<line x1="320.30" y1="659.48" x2="324.30" y2="659.48" stroke="#333" stroke-width="0.8" />
<line x1="320.30" y1="645.30" x2="324.30" y2="645.30" stroke="#333" stroke-width="0.8" />
<text x="318.00" y="648.40" font-size="8.9" text-anchor="end" fill="#222" font-weight="normal" >200</text>
<line x1="320.30" y1="631.12" x2="324.30" y2="631.12" stroke="#333" stroke-width="0.8" />
<line x1="320.30" y1="616.95" x2="324.30" y2="616.95" stroke="#333" stroke-width="0.8" />
<text x="318.00" y="620.05" font-size="8.9" text-anchor="end" fill="#222" font-weight="normal" >300</text>
<line x1="320.30" y1="602.77" x2="324.30" y2="602.77" stroke="#333" stroke-width="0.8" />
<line x1="320.30" y1="588.60" x2="324.30" y2="588.60" stroke="#333" stroke-width="0.8" />
<text x="318.00" y="591.70" font-size="8.9" text-anchor="end" fill="#222" font-weight="normal" >400</text>
<line x1="320.30" y1="574.42" x2="324.30" y2="574.42" stroke="#333" stroke-width="0.8" />
<line x1="320.30" y1="560.25" x2="324.30" y2="560.25" stroke="#333" stroke-width="0.8" />
<text x="318.00" y="563.35" font-size="8.9" text-anchor="end" fill="#222" font-weight="normal" >500</text>
<text transform="translate(284.9,627.6) rotate(-90) scale(0.82,1)" font-size="8.4" text-anchor="middle" fill="#222">TCGA RNAseq cohort</text>
<text transform="translate(294.9,630.9) rotate(-90) scale(0.9,1)" font-size="8.2" text-anchor="middle" fill="#222"><tspan font-style="italic">ETV6</tspan> gene expression (CPM)</text>
<line x1="345.50" y1="702.00" x2="345.50" y2="705.00" stroke="#333" stroke-width="0.8" />
<line x1="381.80" y1="702.00" x2="381.80" y2="705.00" stroke="#333" stroke-width="0.8" />
<line x1="418.00" y1="702.00" x2="418.00" y2="705.00" stroke="#333" stroke-width="0.8" />
<line x1="454.50" y1="702.00" x2="454.50" y2="705.00" stroke="#333" stroke-width="0.8" />
<line x1="490.50" y1="702.00" x2="490.50" y2="705.00" stroke="#333" stroke-width="0.8" />
<text x="345.40" y="716.30" font-size="8.8" text-anchor="middle" fill="#222" font-weight="normal" >CBF</text>
<text x="381.90" y="716.30" font-size="8.8" text-anchor="middle" fill="#222" font-weight="normal" >NK</text>
<text x="418.10" y="716.30" font-size="8.8" text-anchor="middle" fill="#222" font-weight="normal" >TP53</text>
<text x="418.40" y="726.30" font-size="8.8" text-anchor="middle" fill="#222" font-weight="normal" >12p intact</text>
<text x="454.60" y="716.30" font-size="8.8" text-anchor="middle" fill="#222" font-weight="normal" >12p</text>
<text x="454.30" y="726.30" font-size="8.8" text-anchor="middle" fill="#222" font-weight="normal" >loss</text>
<text x="490.60" y="716.30" font-size="8.8" text-anchor="middle" fill="#222" font-weight="normal" >TP53</text>
<text x="490.80" y="726.30" font-size="8.8" text-anchor="middle" fill="#222" font-weight="normal" >12p loss</text>
<line x1="345.50" y1="620.50" x2="345.50" y2="681.50" stroke="#444" stroke-width="0.9" />
<rect x="331.90" y="642.40" width="27.20" height="16.20" fill="#124b8a" />
<line x1="331.90" y1="654.60" x2="359.10" y2="654.60" stroke="#111" stroke-width="1.6" />
<line x1="381.50" y1="619.50" x2="381.50" y2="690.80" stroke="#444" stroke-width="0.9" />
<rect x="368.20" y="651.40" width="27.20" height="23.70" fill="#d50a25" />
<line x1="368.20" y1="665.60" x2="395.40" y2="665.60" stroke="#111" stroke-width="1.6" />
<line x1="418.50" y1="672.50" x2="418.50" y2="687.50" stroke="#444" stroke-width="0.9" />
<rect x="404.40" y="674.20" width="27.20" height="5.30" fill="#f5960f" />
<line x1="404.40" y1="677.50" x2="431.60" y2="677.50" stroke="#111" stroke-width="1.6" />
<line x1="454.50" y1="670.90" x2="454.50" y2="675.00" stroke="#444" stroke-width="0.9" />
<rect x="440.90" y="670.90" width="27.20" height="4.10" fill="#5bbfea" />
<line x1="440.90" y1="672.70" x2="468.10" y2="672.70" stroke="#111" stroke-width="1.6" />
<line x1="490.50" y1="682.40" x2="490.50" y2="688.00" stroke="#444" stroke-width="0.9" />
<rect x="476.90" y="682.40" width="27.20" height="5.30" fill="#36ab36" />
<line x1="476.90" y1="685.80" x2="504.10" y2="685.80" stroke="#111" stroke-width="1.6" />
<circle cx="344.20" cy="620.50" r="1.15" fill="#111"/>
<circle cx="345.80" cy="627.20" r="1.15" fill="#111"/>
<circle cx="347.30" cy="630.00" r="1.15" fill="#111"/>
<circle cx="346.50" cy="633.80" r="1.15" fill="#111"/>
<circle cx="348.80" cy="642.00" r="1.15" fill="#111"/>
<circle cx="348.80" cy="646.90" r="1.15" fill="#111"/>
<circle cx="347.80" cy="650.80" r="1.15" fill="#111"/>
<circle cx="342.70" cy="658.90" r="1.15" fill="#111"/>
<circle cx="341.90" cy="668.90" r="1.15" fill="#111"/>
<circle cx="341.90" cy="671.10" r="1.15" fill="#111"/>
<circle cx="346.50" cy="675.40" r="1.15" fill="#111"/>
<circle cx="343.90" cy="681.50" r="1.15" fill="#111"/>
<circle cx="343.00" cy="645.00" r="1.15" fill="#111"/>
<circle cx="346.00" cy="652.00" r="1.15" fill="#111"/>
<circle cx="349.00" cy="655.00" r="1.15" fill="#111"/>
<circle cx="341.00" cy="655.00" r="1.15" fill="#111"/>
<circle cx="383.80" cy="560.50" r="1.15" fill="#111"/>
<circle cx="385.10" cy="582.80" r="1.15" fill="#111"/>
<circle cx="384.20" cy="610.80" r="1.15" fill="#111"/>
<circle cx="382.30" cy="620.50" r="1.15" fill="#111"/>
<circle cx="379.20" cy="626.20" r="1.15" fill="#111"/>
<circle cx="385.40" cy="626.20" r="1.15" fill="#111"/>
<circle cx="381.20" cy="629.20" r="1.15" fill="#111"/>
<circle cx="385.80" cy="630.50" r="1.15" fill="#111"/>
<circle cx="380.10" cy="634.30" r="1.15" fill="#111"/>
<circle cx="382.20" cy="638.50" r="1.15" fill="#111"/>
<circle cx="381.20" cy="640.80" r="1.15" fill="#111"/>
<circle cx="383.50" cy="642.60" r="1.15" fill="#111"/>
<circle cx="385.00" cy="643.80" r="1.15" fill="#111"/>
<circle cx="379.60" cy="647.70" r="1.15" fill="#111"/>
<circle cx="382.70" cy="646.90" r="1.15" fill="#111"/>
<circle cx="378.80" cy="677.70" r="1.15" fill="#111"/>
<circle cx="383.20" cy="680.80" r="1.15" fill="#111"/>
<circle cx="379.60" cy="682.30" r="1.15" fill="#111"/>
<circle cx="384.70" cy="685.10" r="1.15" fill="#111"/>
<circle cx="381.20" cy="685.40" r="1.15" fill="#111"/>
<circle cx="378.80" cy="690.80" r="1.15" fill="#111"/>
<circle cx="384.00" cy="688.00" r="1.15" fill="#111"/>
<circle cx="380.00" cy="679.00" r="1.15" fill="#111"/>
<circle cx="381.11" cy="646.00" r="1.15" fill="#111"/>
<circle cx="384.07" cy="646.70" r="1.15" fill="#111"/>
<circle cx="384.42" cy="647.40" r="1.15" fill="#111"/>
<circle cx="383.02" cy="648.10" r="1.15" fill="#111"/>
<circle cx="380.27" cy="648.80" r="1.15" fill="#111"/>
<circle cx="377.72" cy="649.50" r="1.15" fill="#111"/>
<circle cx="378.30" cy="650.20" r="1.15" fill="#111"/>
<circle cx="382.06" cy="650.90" r="1.15" fill="#111"/>
<circle cx="383.68" cy="651.60" r="1.15" fill="#111"/>
<circle cx="384.21" cy="652.30" r="1.15" fill="#111"/>
<circle cx="383.56" cy="653.00" r="1.15" fill="#111"/>
<circle cx="379.99" cy="653.70" r="1.15" fill="#111"/>
<circle cx="378.87" cy="654.40" r="1.15" fill="#111"/>
<circle cx="379.03" cy="655.10" r="1.15" fill="#111"/>
<circle cx="381.82" cy="655.80" r="1.15" fill="#111"/>
<circle cx="383.55" cy="656.50" r="1.15" fill="#111"/>
<circle cx="384.79" cy="657.20" r="1.15" fill="#111"/>
<circle cx="383.32" cy="657.90" r="1.15" fill="#111"/>
<circle cx="380.02" cy="658.60" r="1.15" fill="#111"/>
<circle cx="378.71" cy="659.30" r="1.15" fill="#111"/>
<circle cx="379.35" cy="660.00" r="1.15" fill="#111"/>
<circle cx="381.01" cy="660.70" r="1.15" fill="#111"/>
<circle cx="384.49" cy="661.40" r="1.15" fill="#111"/>
<circle cx="384.71" cy="662.10" r="1.15" fill="#111"/>
<circle cx="382.42" cy="662.80" r="1.15" fill="#111"/>
<circle cx="379.24" cy="663.50" r="1.15" fill="#111"/>
<circle cx="378.89" cy="664.20" r="1.15" fill="#111"/>
<circle cx="379.09" cy="664.90" r="1.15" fill="#111"/>
<circle cx="382.04" cy="665.60" r="1.15" fill="#111"/>
<circle cx="384.70" cy="666.30" r="1.15" fill="#111"/>
<circle cx="384.88" cy="667.00" r="1.15" fill="#111"/>
<circle cx="383.30" cy="667.70" r="1.15" fill="#111"/>
<circle cx="379.74" cy="668.40" r="1.15" fill="#111"/>
<circle cx="378.79" cy="669.10" r="1.15" fill="#111"/>
<circle cx="379.09" cy="669.80" r="1.15" fill="#111"/>
<circle cx="382.42" cy="670.50" r="1.15" fill="#111"/>
<circle cx="384.73" cy="671.20" r="1.15" fill="#111"/>
<circle cx="383.94" cy="671.90" r="1.15" fill="#111"/>
<circle cx="382.07" cy="672.60" r="1.15" fill="#111"/>
<circle cx="379.42" cy="673.30" r="1.15" fill="#111"/>
<circle cx="379.02" cy="674.00" r="1.15" fill="#111"/>
<circle cx="379.11" cy="674.70" r="1.15" fill="#111"/>
<circle cx="382.01" cy="675.40" r="1.15" fill="#111"/>
<circle cx="383.90" cy="676.10" r="1.15" fill="#111"/>
<circle cx="382.05" cy="676.00" r="1.15" fill="#111"/>
<circle cx="381.20" cy="677.80" r="1.15" fill="#111"/>
<circle cx="380.96" cy="679.60" r="1.15" fill="#111"/>
<circle cx="382.60" cy="681.40" r="1.15" fill="#111"/>
<circle cx="382.59" cy="683.20" r="1.15" fill="#111"/>
<circle cx="384.83" cy="685.00" r="1.15" fill="#111"/>
<circle cx="383.27" cy="686.80" r="1.15" fill="#111"/>
<circle cx="385.00" cy="688.60" r="1.15" fill="#111"/>
<circle cx="415.40" cy="659.60" r="1.15" fill="#111"/>
<circle cx="419.20" cy="659.60" r="1.15" fill="#111"/>
<circle cx="415.40" cy="671.90" r="1.15" fill="#111"/>
<circle cx="418.50" cy="673.00" r="1.15" fill="#111"/>
<circle cx="419.20" cy="675.40" r="1.15" fill="#111"/>
<circle cx="416.20" cy="678.80" r="1.15" fill="#111"/>
<circle cx="418.80" cy="682.70" r="1.15" fill="#111"/>
<circle cx="415.80" cy="687.70" r="1.15" fill="#111"/>
<circle cx="420.80" cy="679.20" r="1.15" fill="#111"/>
<circle cx="417.50" cy="677.00" r="1.15" fill="#111"/>
<circle cx="453.80" cy="668.50" r="1.15" fill="#111"/>
<circle cx="457.70" cy="682.00" r="1.15" fill="#111"/>
<circle cx="452.00" cy="672.50" r="1.15" fill="#111"/>
<circle cx="487.70" cy="672.20" r="1.15" fill="#111"/>
<circle cx="493.50" cy="690.70" r="1.15" fill="#111"/>
<circle cx="491.20" cy="688.90" r="1.15" fill="#111"/>
<line x1="346.25" y1="522.50" x2="491.75" y2="522.50" stroke="#444" stroke-width="1" />
<circle cx="418.25" cy="518.00" r="0.95" fill="#333"/>
<line x1="381.75" y1="528.50" x2="491.75" y2="528.50" stroke="#444" stroke-width="1" />
<circle cx="433.75" cy="524.25" r="0.95" fill="#333"/>
<line x1="346.25" y1="534.50" x2="417.50" y2="534.50" stroke="#444" stroke-width="1" />
<circle cx="380.75" cy="531.25" r="0.95" fill="#333"/>
<line x1="381.75" y1="540.50" x2="417.50" y2="540.50" stroke="#444" stroke-width="1" />
<circle cx="398.75" cy="537.50" r="0.95" fill="#333"/>
<line x1="346.25" y1="548.50" x2="454.50" y2="548.50" stroke="#444" stroke-width="1" />
<circle cx="398.75" cy="544.50" r="0.95" fill="#333"/>
<line x1="381.75" y1="553.50" x2="454.50" y2="553.50" stroke="#444" stroke-width="1" />
<circle cx="418.25" cy="550.75" r="0.95" fill="#333"/>
<rect x="0.5" y="0.5" width="519" height="735" fill="none" stroke="#444" stroke-width="1"/>
</svg>
</body></html>
